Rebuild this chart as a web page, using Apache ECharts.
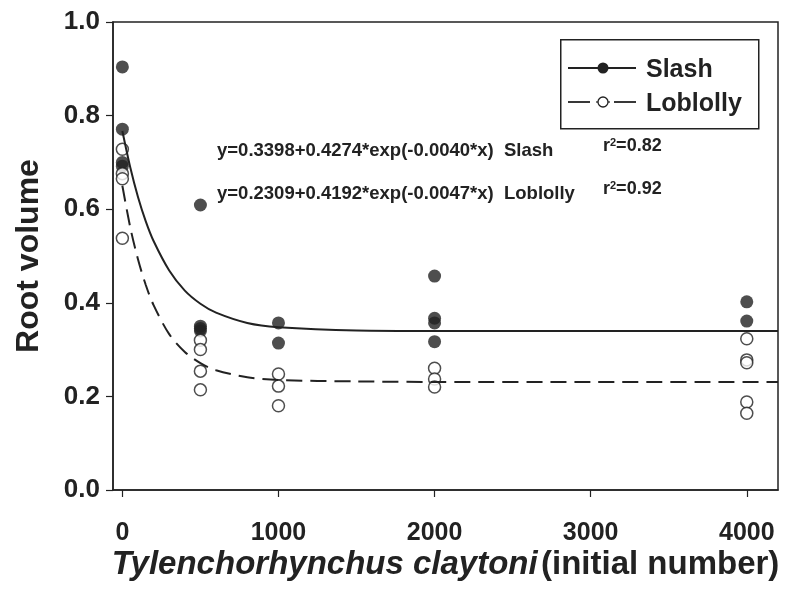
<!DOCTYPE html>
<html><head><meta charset="utf-8">
<script src="https://cdn.jsdelivr.net/npm/echarts@6/dist/echarts.min.js"></script>
<style>html,body{margin:0;padding:0;background:#fff}#c{width:785px;height:594px}</style>
</head><body><div id="c"></div>
<script>
// Observed data
const slashX = [0, 0, 0, 0, 500, 500, 500, 500, 1000, 1000, 2000, 2000, 2000, 2000, 4000, 4000];
const slashY = [0.904, 0.771, 0.700, 0.692, 0.609, 0.350, 0.345, 0.340, 0.357, 0.314, 0.457, 0.367, 0.357, 0.317, 0.402, 0.361];
const loblollyX = [0, 0, 0, 0, 500, 500, 500, 500, 1000, 1000, 1000, 2000, 2000, 2000, 4000, 4000, 4000, 4000, 4000];
const loblollyY = [0.728, 0.676, 0.665, 0.538, 0.320, 0.300, 0.254, 0.214, 0.248, 0.222, 0.180, 0.260, 0.237, 0.220, 0.323, 0.278, 0.272, 0.188, 0.164];
// Fitted curves
const curveX = [0, 50, 100, 150, 200, 300, 400, 500, 600, 800, 1000, 1500, 2000, 3000, 4200];
const slashCurve = [0.767, 0.690, 0.626, 0.574, 0.532, 0.469, 0.426, 0.398, 0.379, 0.357, 0.348, 0.341, 0.340, 0.340, 0.340];
const loblollyCurve = [0.650, 0.562, 0.493, 0.438, 0.395, 0.333, 0.295, 0.271, 0.256, 0.241, 0.235, 0.232, 0.231, 0.231, 0.231];
const xTicks = [0, 1000, 2000, 3000, 4000];
const seriesNames = ['Slash', 'Loblolly'];
const equations = ['y=0.3398+0.4274*exp(-0.0040*x)  Slash', 'y=0.2309+0.4192*exp(-0.0047*x)  Loblolly'];
const r2Values = ['0.82', '0.92'];

const ink = '#222';
const font = "'Liberation Sans', Arial, Helvetica, sans-serif";
const zip = (xs, ys) => xs.map((x, i) => [x, ys[i]]);
const supRich = {s: {fontSize: 11, fontWeight: 'bold', fontFamily: font, verticalAlign: 'top', padding: [0, 0, 8, 0], fill: ink}};

const chart = echarts.init(document.getElementById('c'), null, {renderer: 'canvas'});
chart.setOption({
  animation: false,
  backgroundColor: '#fff',
  grid: {left: 113, right: 7, top: 22, bottom: 104, show: true, borderColor: ink, borderWidth: 1.5, backgroundColor: 'transparent'},
  xAxis: {
    type: 'value', min: -60, max: 4200,
    axisLine: {show: true, onZero: false, lineStyle: {color: ink, width: 1.5}},
    axisTick: {show: true, length: 7, lineStyle: {color: ink, width: 1.2}, customValues: xTicks},
    axisLabel: {color: ink, fontFamily: font, fontWeight: 'bold', fontSize: 25, margin: 31, customValues: xTicks, formatter: v => String(v)},
    splitLine: {show: false},
    name: '{i|Tylenchorhynchus claytoni} {n|(initial number)}',
    nameLocation: 'middle', nameGap: 58, nameMoveOverlap: false,
    nameTextStyle: {
      rich: {
        i: {fontFamily: font, fontWeight: 'bold', fontStyle: 'italic', fontSize: 33, color: ink},
        n: {fontFamily: font, fontWeight: 'bold', fontSize: 33, color: ink}
      }
    }
  },
  yAxis: {
    type: 'value', min: 0, max: 1, interval: 0.2,
    axisLine: {show: true, onZero: false, lineStyle: {color: ink, width: 1.5}},
    axisTick: {show: true, length: 7, lineStyle: {color: ink, width: 1.2}},
    axisLabel: {color: ink, fontFamily: font, fontWeight: 'bold', fontSize: 26, margin: 13, formatter: v => v.toFixed(1)},
    splitLine: {show: false},
    name: 'Root volume', nameLocation: 'middle', nameGap: 68, nameMoveOverlap: false,
    nameTextStyle: {fontFamily: font, fontWeight: 'bold', fontSize: 32, color: ink}
  },
  graphic: [
    // legend box
    {type: 'rect', left: 560, top: 39, shape: {width: 198, height: 89}, style: {fill: '#fff', stroke: ink, lineWidth: 1.5}, z: 100},
    {type: 'line', shape: {x1: 568, y1: 68, x2: 636, y2: 68}, style: {stroke: ink, lineWidth: 1.8}, z: 101},
    {type: 'circle', shape: {cx: 603, cy: 68, r: 5.5}, style: {fill: ink}, z: 102},
    {type: 'text', left: 646, top: 58, style: {text: seriesNames[0], font: 'bold 25px ' + font, fill: ink}, z: 101},
    {type: 'line', shape: {x1: 568, y1: 102, x2: 590, y2: 102}, style: {stroke: ink, lineWidth: 1.8}, z: 101},
    {type: 'line', shape: {x1: 614, y1: 102, x2: 636, y2: 102}, style: {stroke: ink, lineWidth: 1.8}, z: 101},
    {type: 'line', shape: {x1: 596, y1: 102, x2: 610, y2: 102}, style: {stroke: ink, lineWidth: 1.2}, z: 101},
    {type: 'circle', shape: {cx: 603, cy: 102, r: 5}, style: {fill: '#fff', stroke: ink, lineWidth: 1.3}, z: 102},
    {type: 'text', left: 646, top: 92, style: {text: seriesNames[1], font: 'bold 25px ' + font, fill: ink}, z: 101},
    // equations
    {type: 'text', left: 217, top: 141, style: {text: equations[0], font: 'bold 18.5px ' + font, fill: ink}, z: 100},
    {type: 'text', left: 217, top: 184, style: {text: equations[1], font: 'bold 18.5px ' + font, fill: ink}, z: 100},
    {type: 'text', left: 603, top: 137, style: {text: 'r{s|2}=' + r2Values[0], font: 'bold 18px ' + font, fill: ink, rich: supRich}, z: 100},
    {type: 'text', left: 603, top: 180, style: {text: 'r{s|2}=' + r2Values[1], font: 'bold 18px ' + font, fill: ink, rich: supRich}, z: 100}
  ],
  series: [
    {name: 'Slash obs', type: 'scatter', data: zip(slashX, slashY), symbol: 'circle', symbolSize: 13, itemStyle: {color: ink}, z: 3},
    {name: 'Loblolly obs', type: 'scatter', data: zip(loblollyX, loblollyY), symbol: 'circle', symbolSize: 12, itemStyle: {color: '#fff', borderColor: ink, borderWidth: 1.5}, z: 4},
    {name: 'Slash fit', type: 'line', data: zip(curveX, slashCurve), smooth: 0.3, showSymbol: false, symbol: 'none', lineStyle: {color: ink, width: 2}, z: 5},
    {name: 'Loblolly fit', type: 'line', data: zip(curveX, loblollyCurve), smooth: 0.3, showSymbol: false, symbol: 'none', lineStyle: {color: ink, width: 2, type: [16, 8]}, z: 5}
  ]
});
</script></body></html>
